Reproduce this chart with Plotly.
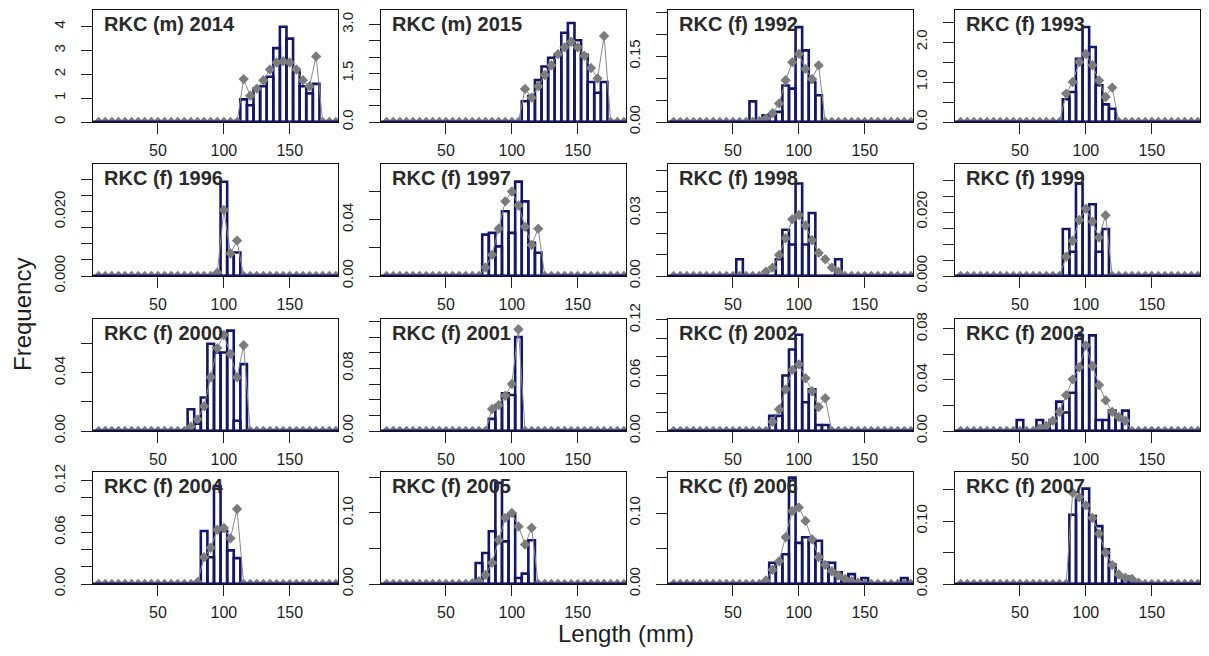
import plotly.graph_objects as go

# ---------------- data ----------------
LENGTH_BINS = list(range(5, 190, 5))          # length classes (mm), 5-mm bins
X_RANGE = [0.7, 186.6]
X_TICKS = [50, 100, 150]

panel_titles = ["RKC (m) 2014", "RKC (m) 2015", "RKC (f) 1992", "RKC (f) 1993",
                "RKC (f) 1996", "RKC (f) 1997", "RKC (f) 1998", "RKC (f) 1999",
                "RKC (f) 2000", "RKC (f) 2001", "RKC (f) 2002", "RKC (f) 2003",
                "RKC (f) 2004", "RKC (f) 2005", "RKC (f) 2006", "RKC (f) 2007"]

# observed frequencies (first length class, then consecutive 5-mm classes)
obs_first = [115, 110, 65, 85, 100, 80, 55, 85, 75, 85, 80, 50, 85, 75, 80, 90]
obs_m2014 = [0.95, 0.7, 1.4, 1.5, 1.9, 3.1, 4.0, 3.5, 2.1, 1.5, 1.2, 1.6]
obs_m2015 = [0.64, 0.8, 1.29, 1.71, 1.98, 2.07, 2.75, 3.05, 2.52, 2.07, 1.23, 0.9, 1.23]
obs_f1992 = [0.047, 0.005, 0.015, 0.015, 0.023, 0.083, 0.076, 0.216, 0.163, 0.091, 0.061]
obs_f1993 = [0.567, 0.75, 1.58, 2.375, 1.875, 0.917, 0.44, 0.333]
obs_f1996 = [0.0293, 0.0073, 0.0073]
obs_f1997 = [0.0294, 0.0306, 0.021, 0.046, 0.0306, 0.067, 0.053, 0.0235, 0.0165]
obs_f1998 = [0.008, 0, 0, 0, 0, 0, 0.008, 0.022, 0.015, 0.044, 0.015, 0.030, 0, 0, 0, 0.008]
obs_f1999 = [0.0147, 0.0076, 0.029, 0.021, 0.0224, 0.0076, 0.0147]
obs_f2000 = [0.015, 0.005, 0.023, 0.06, 0.054, 0.054, 0.069, 0.007, 0.046]
obs_f2001 = [0.0155, 0.033, 0.048, 0.046, 0.12]
obs_f2002 = [0.0163, 0.0163, 0.06, 0.088, 0.104, 0.031, 0.045, 0.0065, 0.0065]
obs_f2003 = [0.0086, 0, 0, 0.0086, 0.004, 0.0086, 0.023, 0.0145, 0.03, 0.075, 0.066,
             0.075, 0.0086, 0.0086, 0.016, 0.009, 0.016]
obs_f2004 = [0.0616, 0.031, 0.1136, 0.0616, 0.039, 0.030]
obs_f2005 = [0.0296, 0.0437, 0.0743, 0.1425, 0.060, 0.098, 0.0085, 0.0146, 0.0616]
obs_f2006 = [0.03, 0.03, 0.042, 0.15, 0.058, 0.066, 0.061, 0.061, 0.03, 0.03, 0.0165,
             0.0095, 0.014, 0.004, 0.0085, 0, 0, 0, 0, 0, 0.0085]
obs_f2007 = [0.11, 0.1345, 0.1516, 0.108, 0.092, 0.055, 0.031, 0.014, 0.012, 0.004]

# predicted frequencies
pred_first = [115, 110, 65, 85, 95, 80, 75, 85, 75, 85, 80, 65, 80, 70, 75, 90]
pred_m2014 = [1.8, 1.1, 1.4, 1.75, 2.2, 2.5, 2.55, 2.5, 2.2, 1.75, 1.5, 2.75]
pred_m2015 = [1.02, 0.75, 1.1, 1.45, 1.75, 2.09, 2.3, 2.47, 2.3, 2.04, 1.66, 1.34, 2.65]
pred_f1992 = [0.0, 0.002, 0.008, 0.02, 0.042, 0.095, 0.136, 0.155, 0.121, 0.098, 0.129]
pred_f1993 = [0.71, 1.0, 1.5, 1.7, 1.42, 1.04, 0.625, 0.86]
pred_f1996 = [0.001, 0.0205, 0.007, 0.011]
pred_f1997 = [0.006, 0.015, 0.0336, 0.053, 0.06, 0.05, 0.035, 0.022, 0.0336]
pred_f1998 = [0.002, 0.004, 0.01, 0.018, 0.027, 0.029, 0.024, 0.017, 0.011, 0.008, 0.004, 0.002]
pred_f1999 = [0.006, 0.011, 0.0175, 0.021, 0.017, 0.012, 0.019]
pred_f2000 = [0.003, 0.008, 0.017, 0.037, 0.057, 0.066, 0.053, 0.037, 0.059]
pred_f2001 = [0.028, 0.033, 0.045, 0.06, 0.13]
pred_f2002 = [0.01, 0.0235, 0.045, 0.066, 0.072, 0.057, 0.043, 0.026, 0.0355]
pred_f2003 = [0.002, 0.004, 0.008, 0.015, 0.028, 0.0405, 0.05, 0.067, 0.051, 0.036,
              0.024, 0.015, 0.011, 0.008]
pred_f2004 = [0.002, 0.031, 0.042, 0.063, 0.065, 0.053, 0.087]
pred_f2005 = [0.001, 0.004, 0.013, 0.03, 0.062, 0.093, 0.1, 0.081, 0.0555, 0.079]
pred_f2006 = [0.005, 0.02, 0.032, 0.066, 0.103, 0.108, 0.089, 0.063, 0.038, 0.027,
              0.018, 0.012, 0.007, 0.004, 0.002]
pred_f2007 = [0.145, 0.138, 0.125, 0.105, 0.08, 0.05, 0.03, 0.015, 0.01, 0.008, 0.002]

# y axes: upper limit, tick step, tick labels ('' = tick without label)
y_max = [4.7, 3.45, 0.255, 2.8, 0.0348, 0.0795, 0.0533, 0.035,
         0.077, 0.143, 0.121, 0.0878, 0.13, 0.1576, 0.158, 0.178]
y_step = [1, 0.5, 0.05, 0.5, 0.005, 0.02, 0.01, 0.005,
          0.02, 0.02, 0.02, 0.02, 0.02, 0.05, 0.05, 0.05]
y_labels = [
    ["0", "1", "2", "3", "4"],
    ["0.0", "", "", "1.5", "", "", "3.0"],
    ["0.00", "", "", "0.15", "", ""],
    ["0.0", "", "1.0", "", "2.0", ""],
    ["0.000", "", "", "", "0.020", "", ""],
    ["0.00", "", "0.04", ""],
    ["0.00", "", "", "0.03", "", ""],
    ["0.000", "", "", "", "0.020", "", ""],
    ["0.00", "", "0.04", ""],
    ["0.00", "", "", "", "0.08", "", "", ""],
    ["0.00", "", "", "0.06", "", "", "0.12"],
    ["0.00", "", "0.04", "", "0.08"],
    ["0.00", "", "", "0.06", "", "", "0.12"],
    ["0.00", "", "0.10", ""],
    ["0.00", "", "0.10", ""],
    ["0.00", "", "0.10", ""],
]

obs_series = [obs_m2014, obs_m2015, obs_f1992, obs_f1993, obs_f1996, obs_f1997,
              obs_f1998, obs_f1999, obs_f2000, obs_f2001, obs_f2002, obs_f2003,
              obs_f2004, obs_f2005, obs_f2006, obs_f2007]
pred_series = [pred_m2014, pred_m2015, pred_f1992, pred_f1993, pred_f1996, pred_f1997,
               pred_f1998, pred_f1999, pred_f2000, pred_f2001, pred_f2002, pred_f2003,
               pred_f2004, pred_f2005, pred_f2006, pred_f2007]


def expand(first, values):
    """Place values on the full set of length bins (zero elsewhere)."""
    out = []
    for b in LENGTH_BINS:
        k = (b - first) // 5
        out.append(values[k] if 0 <= k < len(values) else 0.0)
    return out


# ---------------- layout geometry (page pixels) ----------------
PAGE_W, PAGE_H = 1209, 656
BODY = 8                       # default page margin around the plot div
W, H = PAGE_W - BODY, PAGE_H - BODY
COL_LEFT = [93, 381, 668, 955]
COL_W = 245
ROW_TOP = [10, 164, 319, 472]
ROW_H = 112


def px(xp):
    return (xp - BODY) / W


def py(yp):
    return 1 - (yp - BODY) / H


NAVY = "#15156b"
GREY = "#7c7c7c"
FONT = "Liberation Sans, Arial, sans-serif"
TXT = "#1e1e1e"

fig = go.Figure()
layout = dict(width=W, height=H, margin=dict(l=0, r=0, t=0, b=0, pad=0, autoexpand=False),
              template="none",
              paper_bgcolor="white", plot_bgcolor="white", showlegend=False,
              font=dict(family=FONT, color=TXT), annotations=[], shapes=[])

for i in range(16):
    r, c = divmod(i, 4)
    n = i + 1
    xid = "x" if n == 1 else f"x{n}"
    yid = "y" if n == 1 else f"y{n}"
    xkey = "xaxis" if n == 1 else f"xaxis{n}"
    ykey = "yaxis" if n == 1 else f"yaxis{n}"

    obs = expand(obs_first[i], obs_series[i])
    pred = expand(pred_first[i], pred_series[i])

    fig.add_trace(go.Scatter(
        x=LENGTH_BINS, y=pred, xaxis=xid, yaxis=yid, mode="lines+markers",
        line=dict(color="#8a8a8a", width=1),
        marker=dict(symbol="diamond", size=8, color=GREY),
        hoverinfo="skip"))
    fig.add_trace(go.Bar(
        x=LENGTH_BINS, y=obs, xaxis=xid, yaxis=yid, width=5,
        marker=dict(color="rgba(255,255,255,0)", line=dict(color=NAVY, width=2.6)),
        hoverinfo="skip"))

    x0 = px(COL_LEFT[c])
    x1 = px(COL_LEFT[c] + COL_W)
    y1 = py(ROW_TOP[r])
    y0 = py(ROW_TOP[r] + ROW_H)

    labels = y_labels[i]
    tickvals = [k * y_step[i] for k in range(len(labels))]

    layout[xkey] = dict(domain=[x0, x1], anchor=yid, range=X_RANGE, automargin=False,
                        tickmode="array", tickvals=X_TICKS,
                        ticktext=[str(t) for t in X_TICKS],
                        ticks="outside", ticklen=11, tickwidth=1, tickcolor="#222",
                        ticklabelstandoff=3,
                        showline=True, mirror=True, linecolor="#111", linewidth=1,
                        showgrid=False, zeroline=False,
                        tickfont=dict(size=16, family=FONT, color=TXT))
    layout[ykey] = dict(domain=[y0, y1], anchor=xid, range=[0, y_max[i]], automargin=False,
                        tickmode="array", tickvals=tickvals, ticktext=labels,
                        tickangle=-90, ticks="outside", ticklen=11, tickwidth=1,
                        tickcolor="#222", ticklabelstandoff=10,
                        showline=True, mirror=True, linecolor="#111", linewidth=1,
                        showgrid=False, zeroline=False,
                        tickfont=dict(size=15, family=FONT, color=TXT))

    layout["shapes"].append(dict(type="line", xref=f"{xid} domain", yref=yid,
                                 x0=0, x1=1, y0=0, y1=0,
                                 line=dict(color=NAVY, width=3)))
    layout["annotations"].append(dict(
        text="<b>" + panel_titles[i] + "</b>", xref=f"{xid} domain", yref=f"{yid} domain",
        x=0.035, y=0.99, xanchor="left", yanchor="top", showarrow=False,
        font=dict(size=20, family=FONT, color="#2a2a2a")))

layout["annotations"].append(dict(
    text="Frequency", xref="paper", yref="paper", x=px(22), y=py(315),
    xanchor="center", yanchor="middle", textangle=-90, showarrow=False,
    font=dict(size=24, family=FONT, color=TXT)))
layout["annotations"].append(dict(
    text="Length (mm)", xref="paper", yref="paper", x=px(626), y=py(633),
    xanchor="center", yanchor="middle", showarrow=False,
    font=dict(size=24, family=FONT, color=TXT)))

fig.update_layout(**layout)
fig.write_html("out.html")
